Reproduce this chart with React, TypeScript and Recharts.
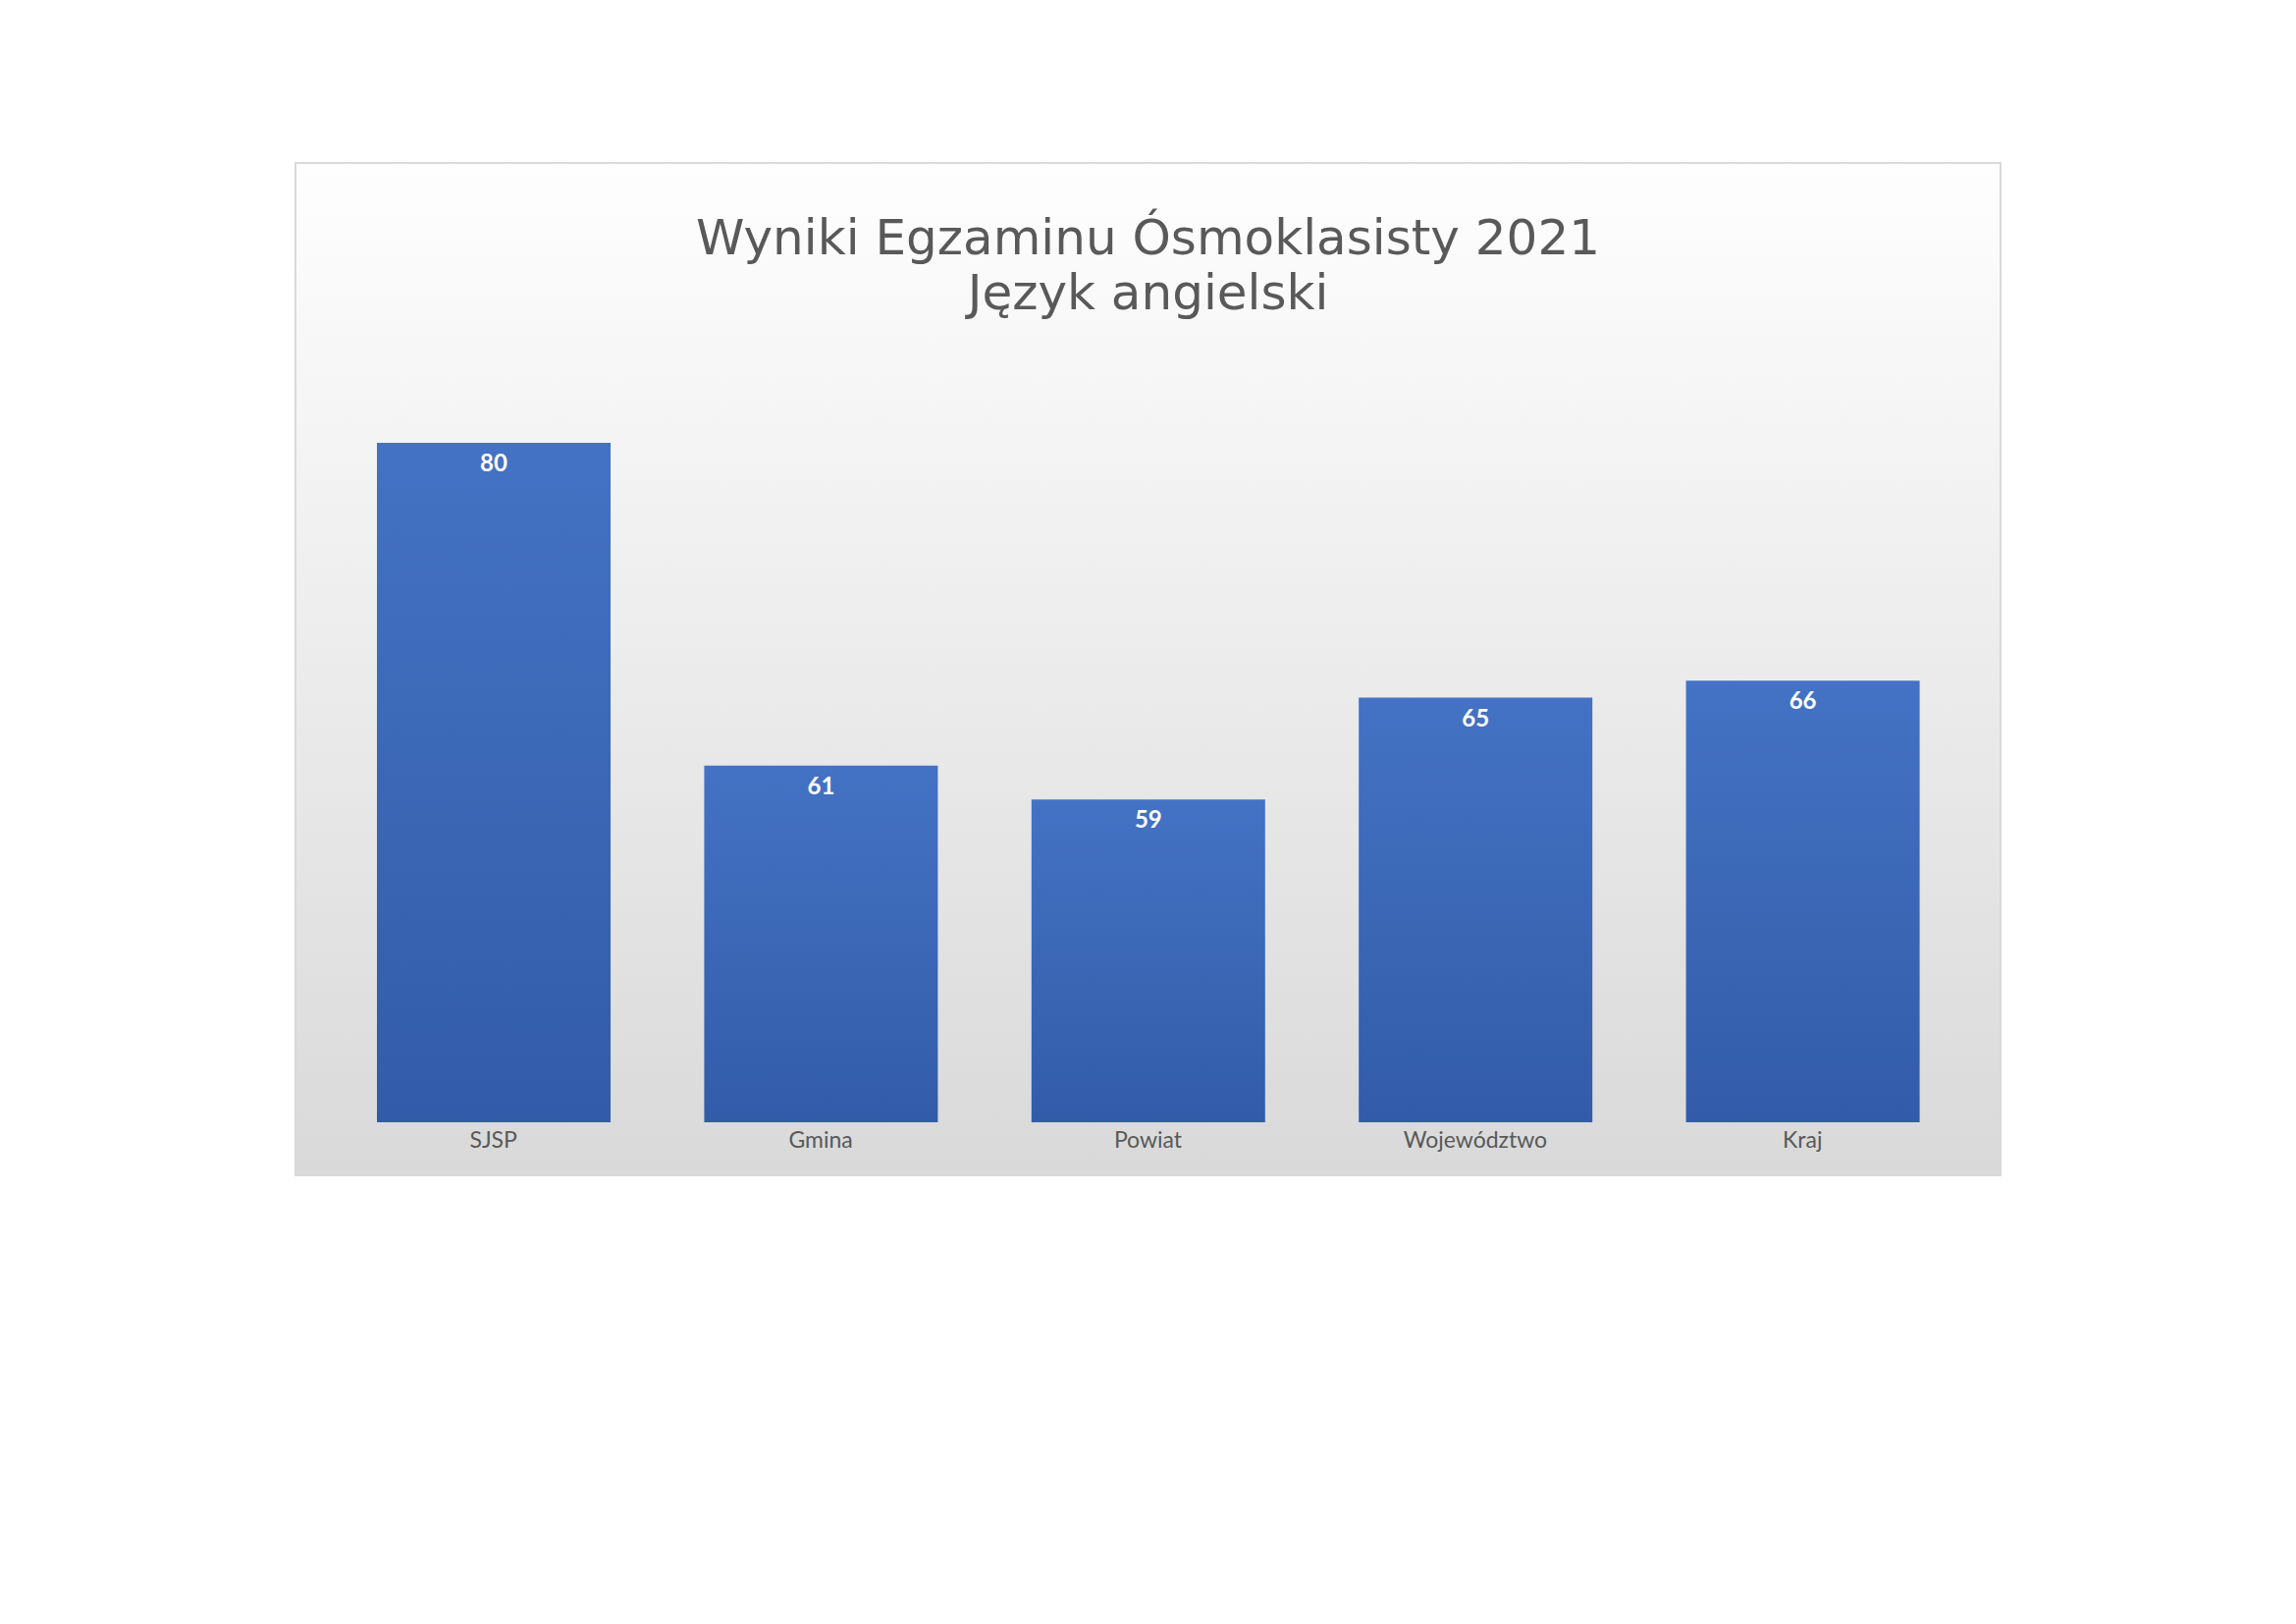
import React from 'react';
import { BarChart, Bar, XAxis, YAxis, LabelList } from 'recharts';

const categories = ['SJSP', 'Gmina', 'Powiat', 'Województwo', 'Kraj'];
const scores = [80, 61, 59, 65, 66];
const titleLines = ['Wyniki Egzaminu Ósmoklasisty 2021', 'Język angielski'];
const yDomain = [40, 80];

const data = categories.map((c, i) => ({ name: c, value: scores[i] }));

const XTick = (props: any) => {
  const { x, payload } = props;
  return (
    <text x={x} y={1169} textAnchor="middle" fontFamily="Lato" fontSize={23} fill="#595959">
      {payload.value}
    </text>
  );
};

const ValueLabel = (props: any) => {
  const { x, y, width, value } = props;
  return (
    <text x={x + width / 2} y={y + 29} textAnchor="middle" fontFamily="Lato" fontWeight={700} fontSize={24} fill="#ffffff">
      {value}
    </text>
  );
};

export default function App() {
  return (
    <div style={{ position: 'absolute', left: 0, top: 0, width: 2339, height: 1654, background: '#ffffff', overflow: 'hidden' }}>
      <div
        style={{
          position: 'absolute',
          left: 300,
          top: 165,
          width: 1739,
          height: 1033,
          boxSizing: 'border-box',
          border: '2px solid #d9d9d9',
          background: 'linear-gradient(to bottom, #fefefe 0%, #d9d9d9 100%)',
        }}
      />
      <div
        style={{
          position: 'absolute',
          left: 300,
          width: 1739,
          top: 214,
          textAlign: 'center',
          fontFamily: 'DejaVu Sans',
          fontSize: 50,
          lineHeight: '56px',
          color: '#595959',
        }}
      >
        {titleLines.map((t, i) => (
          <div key={i}>{t}</div>
        ))}
      </div>
      <div style={{ position: 'absolute', left: 0, top: 0 }}>
        <BarChart
          width={2339}
          height={1654}
          data={data}
          margin={{ top: 451, bottom: 471, left: 336, right: 336 }}
        >
          <defs>
            <linearGradient id="barGrad" x1="0" y1="0" x2="0" y2="1">
              <stop offset="0%" stopColor="#4472C4" />
              <stop offset="100%" stopColor="#325CA8" />
            </linearGradient>
          </defs>
          <XAxis dataKey="name" axisLine={false} tickLine={false} tick={<XTick />} interval={0} height={40} />
          <YAxis hide domain={yDomain} allowDataOverflow type="number" width={0} />
          <Bar dataKey="value" fill="url(#barGrad)" barSize={238} isAnimationActive={false}>
            <LabelList dataKey="value" content={<ValueLabel />} />
          </Bar>
        </BarChart>
      </div>
    </div>
  );
}
